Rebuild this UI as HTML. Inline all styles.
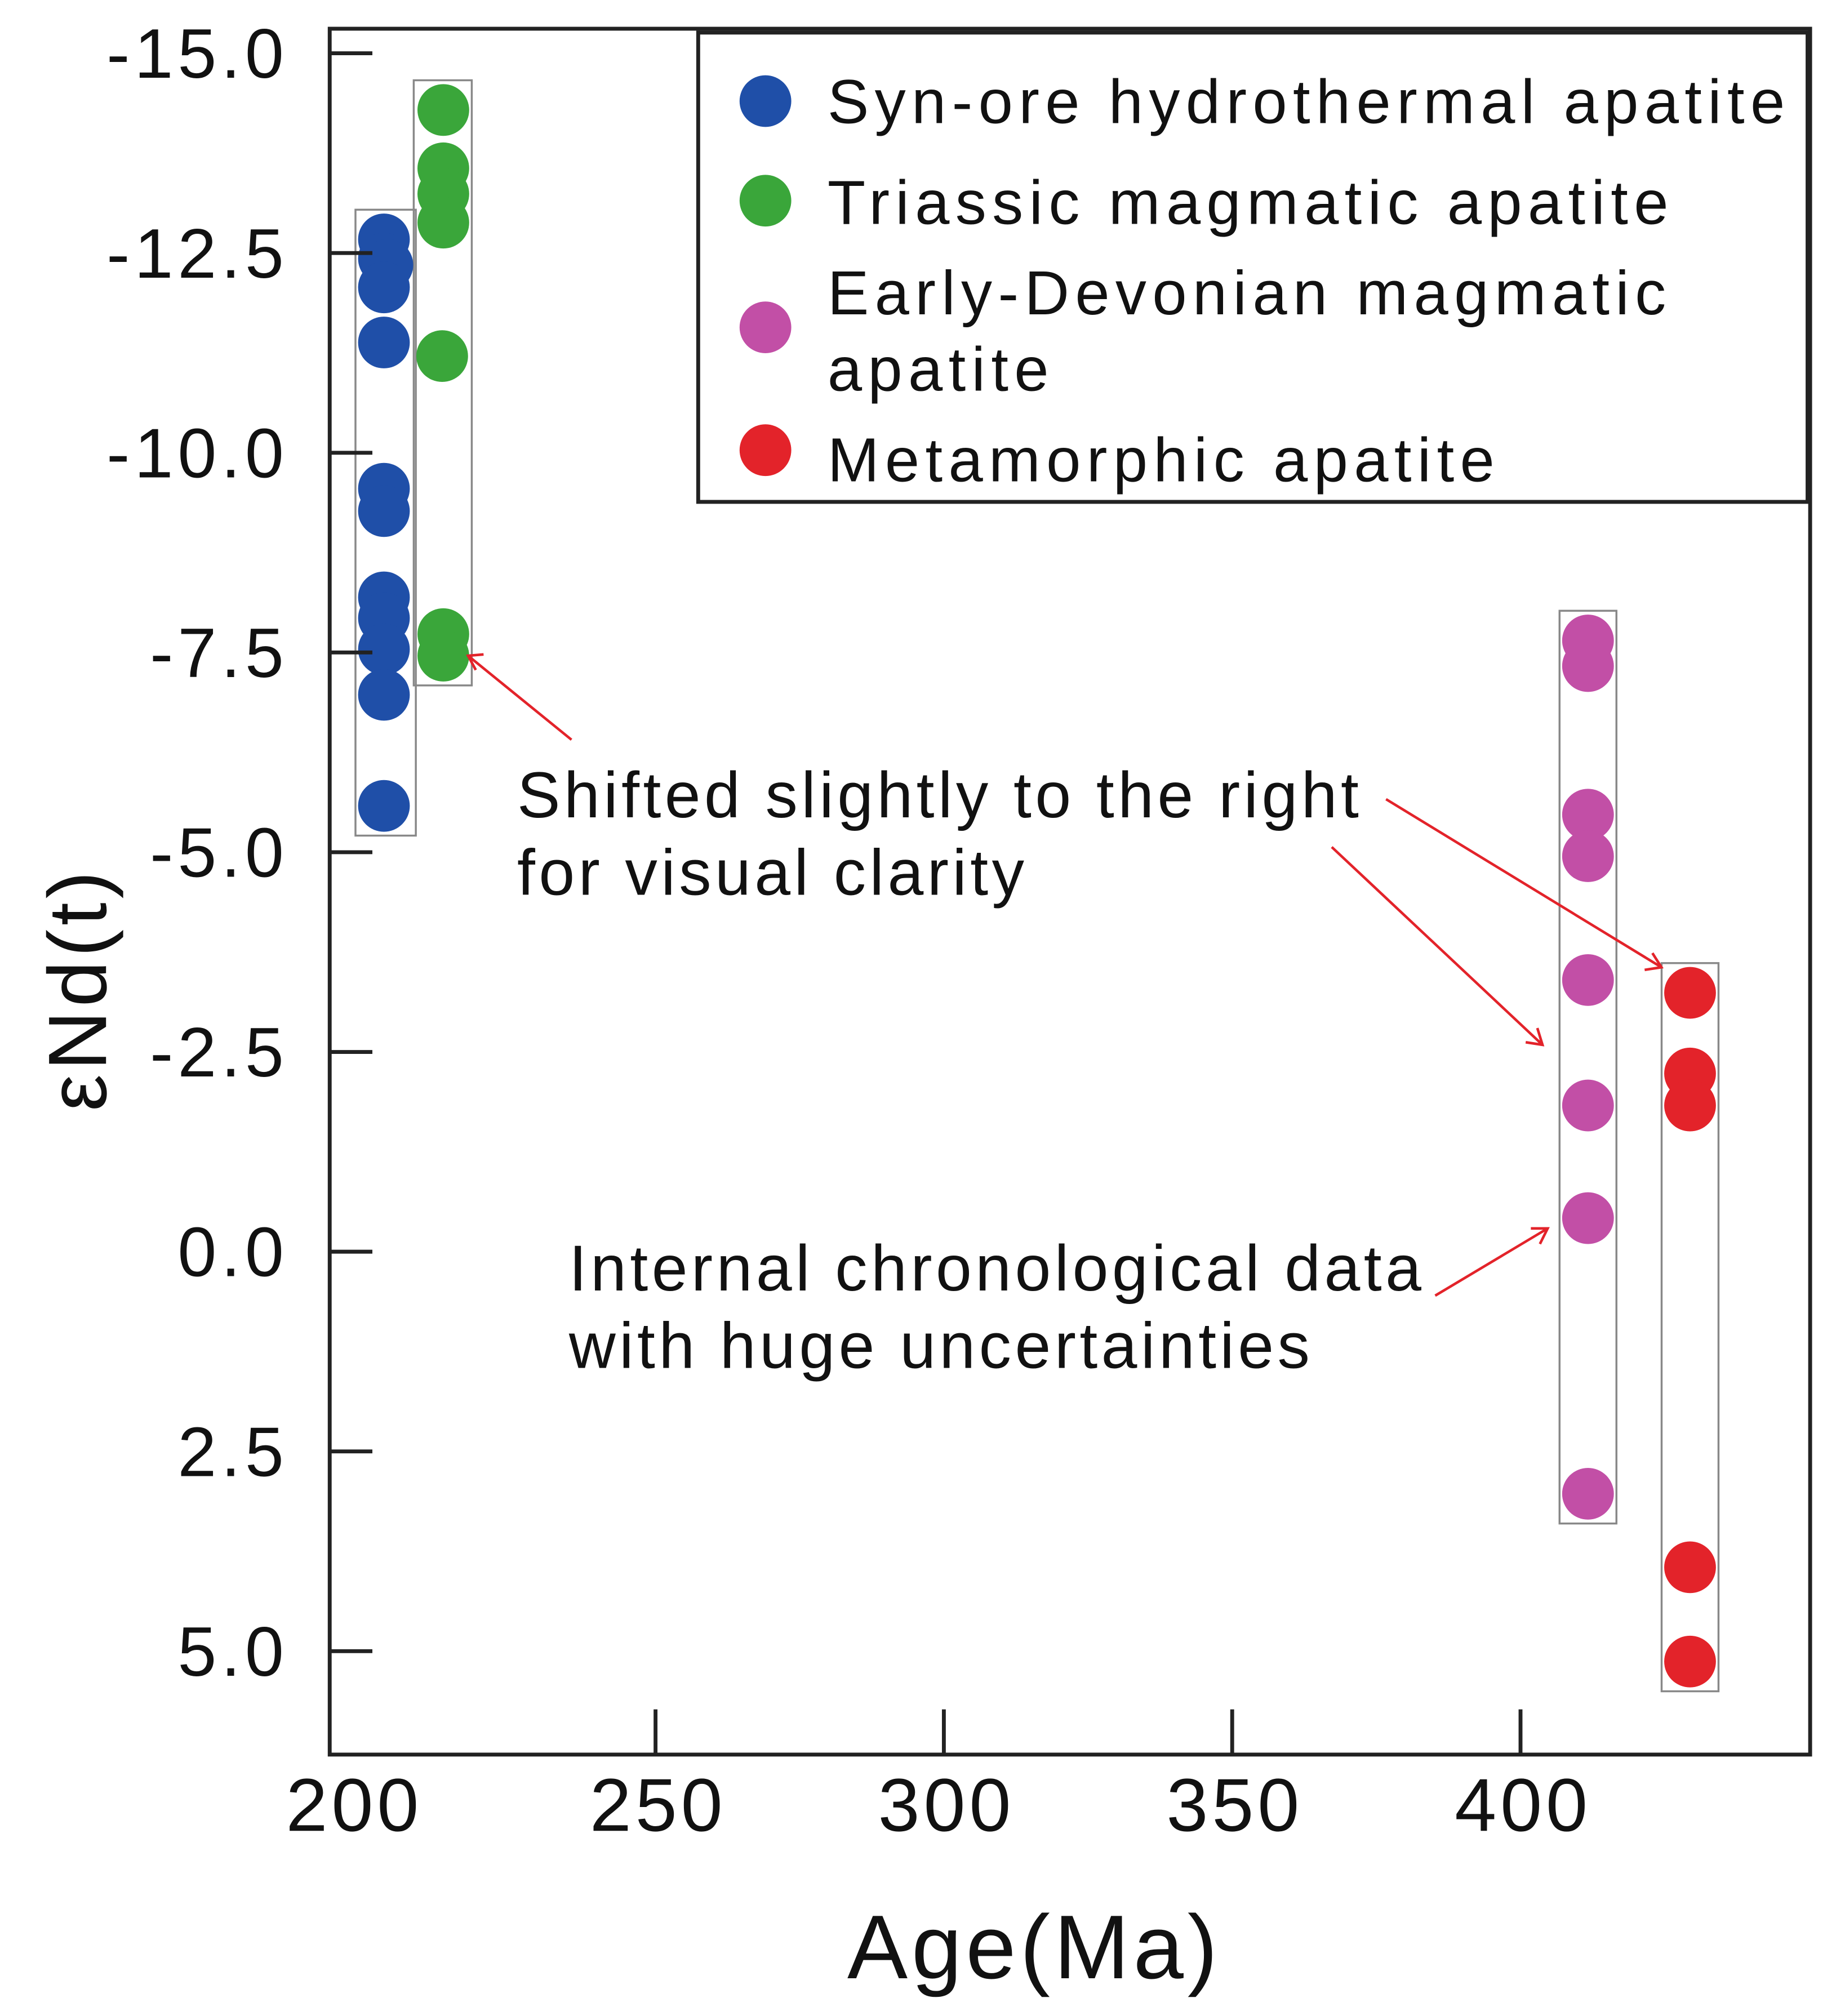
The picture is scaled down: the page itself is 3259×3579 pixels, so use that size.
<!DOCTYPE html>
<html><head><meta charset="utf-8"><style>html,body{margin:0;padding:0;background:#fff}svg{display:block}text{font-family:"Liberation Sans",sans-serif;fill:#111}</style></head>
<body>
<svg id="chart" width="3259" height="3579" viewBox="0 0 1420 1559" xmlns="http://www.w3.org/2000/svg">
<rect width="1420" height="1559" fill="#fff"/>
<g id="boxes"></g>
<g id="points"></g>
<rect x="255" y="22" width="1145" height="1335" fill="none" stroke="#222" stroke-width="3"/>
<g id="axes"></g>
<text transform="translate(82,765) rotate(-90)" text-anchor="middle" font-size="64" letter-spacing="3">εNd(t)</text>
<text x="800" y="1530" text-anchor="middle" font-size="70" letter-spacing="3">Age(Ma)</text>
<g letter-spacing="4.5">
<rect x="540" y="25" width="858" height="363" fill="#fff" stroke="#222" stroke-width="3"/>
<circle cx="592" cy="78" r="20" fill="#1f4fa8"/><text x="640" y="95" font-size="48">Syn-ore hydrothermal apatite</text>
<circle cx="592" cy="155" r="20" fill="#3aa63a"/><text x="640" y="173" font-size="48">Triassic magmatic apatite</text>
<circle cx="592" cy="253" r="20" fill="#c24fa6"/><text x="640" y="243" font-size="48">Early-Devonian magmatic</text><text x="640" y="302" font-size="48">apatite</text>
<circle cx="592" cy="348" r="20" fill="#e3232a"/><text x="640" y="372" font-size="48">Metamorphic apatite</text>
</g>
<g stroke="#e3232a" stroke-width="2" fill="none">
<line x1="442" y1="572" x2="362" y2="507"/><polyline points="374,506 362,507 368,518"/>
<line x1="1030" y1="655" x2="1193" y2="808"/><polyline points="1180,806 1193,808 1189,795"/>
<line x1="1072" y1="618" x2="1285" y2="748"/><polyline points="1272,750 1285,748 1278,737"/>
<line x1="1110" y1="1002" x2="1197" y2="950"/><polyline points="1184,950 1197,950 1191,962"/>
</g>
<g letter-spacing="2.8">
<text x="400" y="632" font-size="50">Shifted slightly to the right</text>
<text x="400" y="692" font-size="50">for visual clarity</text>
<text x="440" y="998" font-size="50">Internal chronological data</text>
<text x="440" y="1058" font-size="50">with huge uncertainties</text>
</g>
</svg>
<script>
const yTicks=[-15,-12.5,-10,-7.5,-5,-2.5,0,2.5,5];
const xTicks=[200,250,300,350,400];
const blueAge=[202.9,202.9,203.5,202.9,202.9,202.9,202.9,202.9,202.9,202.9,202.9,202.9];
const blueNd=[-12.67,-12.43,-12.35,-12.07,-11.38,-9.55,-9.27,-8.19,-7.93,-7.54,-6.97,-5.58];
const greenAge=[213.2,213.2,213.2,213.2,213.0,213.2,213.2];
const greenNd=[-14.29,-13.56,-13.24,-12.88,-11.21,-7.73,-7.46];
const magAge=[411.7,411.7,411.7,411.7,411.7,411.7,411.7,411.7];
const magNd=[-7.65,-7.33,-5.47,-4.95,-3.40,-1.83,-0.42,3.03];
const redAge=[429.4,429.4,429.4,429.4,429.4];
const redNd=[-3.24,-2.23,-1.83,3.95,5.13];
const X=a=>284+(a-200)*4.46;
const Y=v=>968+v*61.8;
const NS='http://www.w3.org/2000/svg';
function mk(t,attrs,parent){const e=document.createElementNS(NS,t);for(const k in attrs)e.setAttribute(k,attrs[k]);document.getElementById(parent).appendChild(e);return e;}
yTicks.forEach(v=>{
 const l=mk('line',{x1:255,x2:288,y1:Y(v),y2:Y(v),stroke:'#222','stroke-width':3},'axes');
 
 
 const t=mk('text',{x:223,y:Y(v)+19,'text-anchor':'end','font-size':54,'letter-spacing':3.5},'axes');
 t.textContent=v.toFixed(1);
 
 
});
xTicks.forEach(a=>{
 if(a>200){const l=mk('line',{x1:X(a),x2:X(a),y1:1322,y2:1357,stroke:'#222','stroke-width':3},'axes');
 
 }
 const t=mk('text',{x:(a===200?272:X(a))+2,y:1416,'text-anchor':'middle','font-size':58,'letter-spacing':3},'axes');
 t.textContent=a;
 
 
});
function series(ages,vals,color,name){
 const xs=ages.map(X),ys=vals.map(Y);
 const b=mk('rect',{x:Math.min(...xs)-22,y:Math.min(...ys)-23,width:Math.max(...xs)-Math.min(...xs)+44,height:Math.max(...ys)-Math.min(...ys)+46,fill:'none',stroke:'#888','stroke-width':1.5},'boxes');
 
 
 ages.forEach((a,i)=>{const c=mk('circle',{cx:X(a),cy:Y(vals[i]),r:20,fill:color},'points');
 
 });
}
series(blueAge,blueNd,'#1f4fa8','syn-ore');
series(greenAge,greenNd,'#3aa63a','triassic');
series(magAge,magNd,'#c24fa6','early-devonian');
series(redAge,redNd,'#e3232a','metamorphic');
</script>
</body></html>
